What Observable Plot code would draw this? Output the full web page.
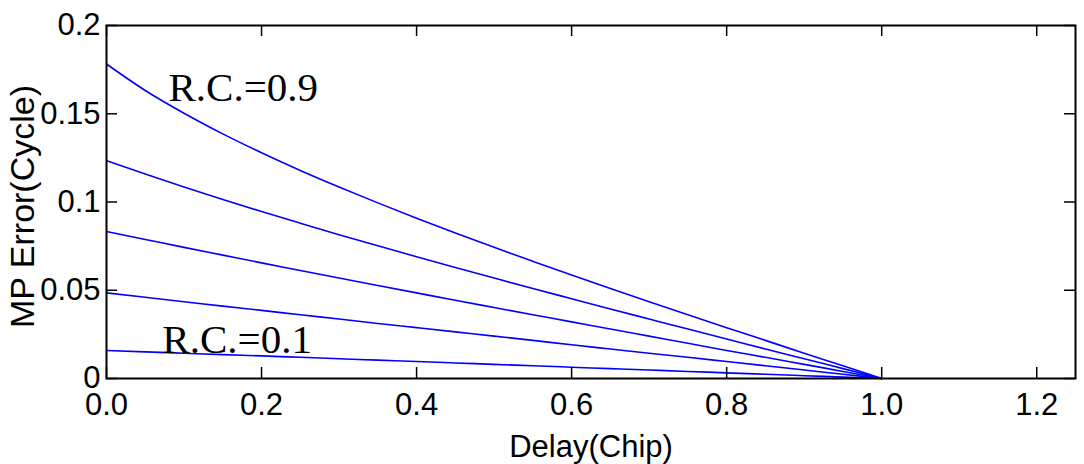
<!DOCTYPE html>
<html>
<head>
<meta charset="utf-8">
<script src="https://cdn.jsdelivr.net/npm/d3@7"></script>
<script src="https://cdn.jsdelivr.net/npm/@observablehq/plot@0.6"></script>
<style>
  html, body { margin: 0; padding: 0; background: #fff; }
  #chart svg { display: block; }
</style>
</head>
<body>
<div id="chart"></div>
<script>
// Delay (chip) sample positions
const delays = [0, 0.05, 0.1, 0.15, 0.2, 0.25, 0.3, 0.35, 0.4, 0.45, 0.5,
                0.55, 0.6, 0.65, 0.7, 0.75, 0.8, 0.85, 0.9, 0.95, 1.0];

// MP error (cycle) for each relative coefficient
const rc09 = [0.1782, 0.1632, 0.1503, 0.1386, 0.1279, 0.1179, 0.1085, 0.0995, 0.0908, 0.0824, 0.0743,
              0.0664, 0.0586, 0.0510, 0.0435, 0.0361, 0.0288, 0.0216, 0.0143, 0.0072, 0];
const rc07 = [0.1234, 0.1158, 0.1085, 0.1014, 0.0946, 0.0880, 0.0815, 0.0752, 0.0690, 0.0629, 0.0569,
              0.0510, 0.0452, 0.0394, 0.0337, 0.0280, 0.0224, 0.0167, 0.0112, 0.0056, 0];
const rc05 = [0.0833, 0.0788, 0.0743, 0.0699, 0.0655, 0.0612, 0.0569, 0.0527, 0.0485, 0.0443, 0.0402,
              0.0361, 0.0321, 0.0280, 0.0240, 0.0200, 0.0159, 0.0120, 0.0080, 0.0040, 0];
const rc03 = [0.0485, 0.0460, 0.0435, 0.0410, 0.0386, 0.0361, 0.0337, 0.0312, 0.0288, 0.0264, 0.0240,
              0.0216, 0.0191, 0.0167, 0.0143, 0.0120, 0.0096, 0.0072, 0.0048, 0.0024, 0];
const rc01 = [0.0159, 0.0151, 0.0143, 0.0135, 0.0128, 0.0120, 0.0112, 0.0104, 0.0096, 0.0088, 0.0080,
              0.0072, 0.0064, 0.0056, 0.0048, 0.0040, 0.0032, 0.0024, 0.0016, 0.0008, 0];

const seriesNames = ["0.9", "0.7", "0.5", "0.3", "0.1"];
const seriesValues = [rc09, rc07, rc05, rc03, rc01];

const xTicks = [0, 0.2, 0.4, 0.6, 0.8, 1.0, 1.2];
const xTickLabels = ["0.0", "0.2", "0.4", "0.6", "0.8", "1.0", "1.2"];
const yTicks = [0, 0.05, 0.1, 0.15, 0.2];
const yTickLabels = ["0", "0.05", "0.1", "0.15", "0.2"];

const annotations = [
  {x: 0.08, y: 0.1575, text: "R.C.=0.9"},
  {x: 0.072, y: 0.0142, text: "R.C.=0.1"}
];

const rows = seriesNames.flatMap((name, i) =>
  delays.map((d, j) => ({rc: name, delay: d, err: seriesValues[i][j]})));

const W = 1084, H = 464;
const mL = 106, mT = 25, mR = 9, mB = 86;
const plotW = W - mL - mR, plotH = H - mT - mB;
const tickLen = 11;
const sans = "'Liberation Sans', Arial, Helvetica, sans-serif";

const chart = Plot.plot({
  width: W,
  height: H,
  marginLeft: mL,
  marginTop: mT,
  marginRight: mR,
  marginBottom: mB,
  style: {fontFamily: sans, background: "#fff", color: "#000"},
  x: {domain: [0, 1.25]},
  y: {domain: [0, 0.2]},
  marks: [
    Plot.line(rows, {x: "delay", y: "err", z: "rc", stroke: "#0000ff", strokeWidth: 1.6, curve: "monotone-x"}),
    // inward ticks on all four sides
    Plot.tickX(xTicks, {x: d => d, insetTop: plotH - tickLen, stroke: "#000", strokeWidth: 1.5}),
    Plot.tickX(xTicks, {x: d => d, insetBottom: plotH - tickLen, stroke: "#000", strokeWidth: 1.5}),
    Plot.tickY(yTicks, {y: d => d, insetRight: plotW - tickLen, stroke: "#000", strokeWidth: 1.5}),
    Plot.tickY(yTicks, {y: d => d, insetLeft: plotW - tickLen, stroke: "#000", strokeWidth: 1.5}),
    Plot.axisX({
      ticks: xTicks, tickFormat: (d, i) => xTickLabels[i], tickSize: 0, tickPadding: 14,
      fontSize: 31, label: "Delay(Chip)", labelAnchor: "center", labelArrow: "none", labelOffset: 78
    }),
    Plot.axisY({
      ticks: yTicks, tickFormat: (d, i) => yTickLabels[i], tickSize: 0, tickPadding: 6,
      fontSize: 31, label: null
    }),
    Plot.text(["MP Error(Cycle)"], {
      frameAnchor: "left", rotate: -90, dx: -83, dy: 4.5, fontSize: 34,
      textAnchor: "middle", lineAnchor: "middle", fill: "#000"
    }),
    Plot.frame({stroke: "#000", strokeWidth: 2}),
    Plot.text(annotations, {
      x: "x", y: "y", text: "text", textAnchor: "start", lineAnchor: "bottom",
      fontSize: 41, fontFamily: "'Liberation Serif', 'Times New Roman', serif", fill: "#000"
    })
  ]
});

document.getElementById("chart").appendChild(chart);
</script>
</body>
</html>
